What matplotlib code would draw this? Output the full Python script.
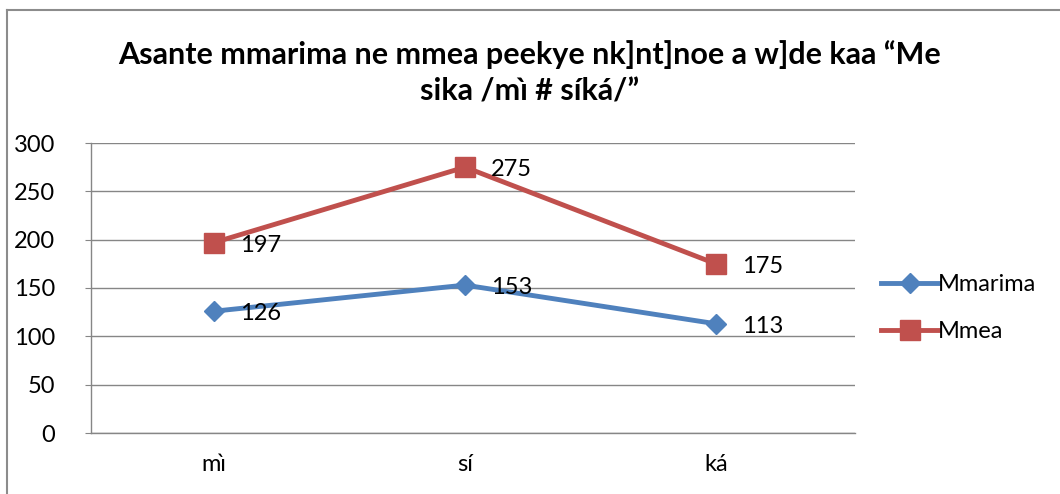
import matplotlib
matplotlib.use("Agg")
import matplotlib.pyplot as plt
from matplotlib.lines import Line2D

categories = ["mɪ̀", "sí", "ká"]
mmarima = [126, 153, 113]
mmea = [197, 275, 175]
series_names = ["Mmarima", "Mmea"]
yticks = [0, 50, 100, 150, 200, 250, 300]
title = "Asante mmarima ne mmea peekye nk]nt]noe a w]de kaa \u201cMe\nsika /mɪ̀ # síká/\u201d"

plt.rcParams['font.family'] = ['Lato', 'DejaVu Sans']

W, H = 1060, 494
fig = plt.figure(figsize=(W / 100, H / 100), dpi=100)
ax = fig.add_axes([91 / W, 1 - 433 / H, (855 - 91) / W, (433 - 143) / H])

blue = "#4F81BD"
red = "#C0504D"
grid = "#868686"
fs = 17

x = list(range(len(categories)))
ax.plot(x, mmarima, color=blue, lw=3.5, marker="D", ms=10.5, label=series_names[0],
        solid_capstyle="round", zorder=3)
ax.plot(x, mmea, color=red, lw=3.5, marker="s", ms=14.5, label=series_names[1],
        solid_capstyle="round", zorder=3)

for series in (mmarima, mmea):
    for xi, v in zip(x, series):
        ax.annotate(str(v), (xi, v), xytext=(19, -2), textcoords="offset points",
                    va="center", ha="left", fontsize=fs, color="black", zorder=4)

ax.set_xlim(-0.49, 2.554)
ax.set_ylim(0, 300)
ax.set_yticks(yticks)
ax.set_yticklabels([str(t) for t in yticks], fontsize=fs)
ax.set_xticks(x)
ax.set_xticklabels(categories, fontsize=fs)
ax.yaxis.grid(True, color=grid, lw=1)
ax.set_axisbelow(True)
for s in ["top", "right"]:
    ax.spines[s].set_visible(False)
for s in ["left", "bottom"]:
    ax.spines[s].set_color(grid)
    ax.spines[s].set_linewidth(1)
ax.tick_params(axis="y", length=4, color=grid, pad=22)
ax.tick_params(axis="x", length=0, pad=15)

fig.text(0.5, 1 - 73 / H, title, ha="center", va="center", fontsize=22,
         fontweight="bold", linespacing=1.35)

handles = [Line2D([0], [0], color=blue, lw=3.5, marker="D", ms=10.5),
           Line2D([0], [0], color=red, lw=3.5, marker="s", ms=14.5)]
fig.legend(handles, series_names, loc="center left",
           bbox_to_anchor=(860 / W, 1 - 308 / H), frameon=False,
           fontsize=fs, handlelength=2.4, handletextpad=0.0, labelspacing=1.1)

# figure border
fig.add_artist(Line2D([6.5 / W, 1], [1 - 10.5 / H, 1 - 10.5 / H], color="#8c8c8c", lw=1.5,
                      transform=fig.transFigure))
fig.add_artist(Line2D([6.5 / W, 6.5 / W], [0, 1 - 10.5 / H], color="#8c8c8c", lw=1.5,
                      transform=fig.transFigure))

fig.savefig("out.png", dpi=100)
